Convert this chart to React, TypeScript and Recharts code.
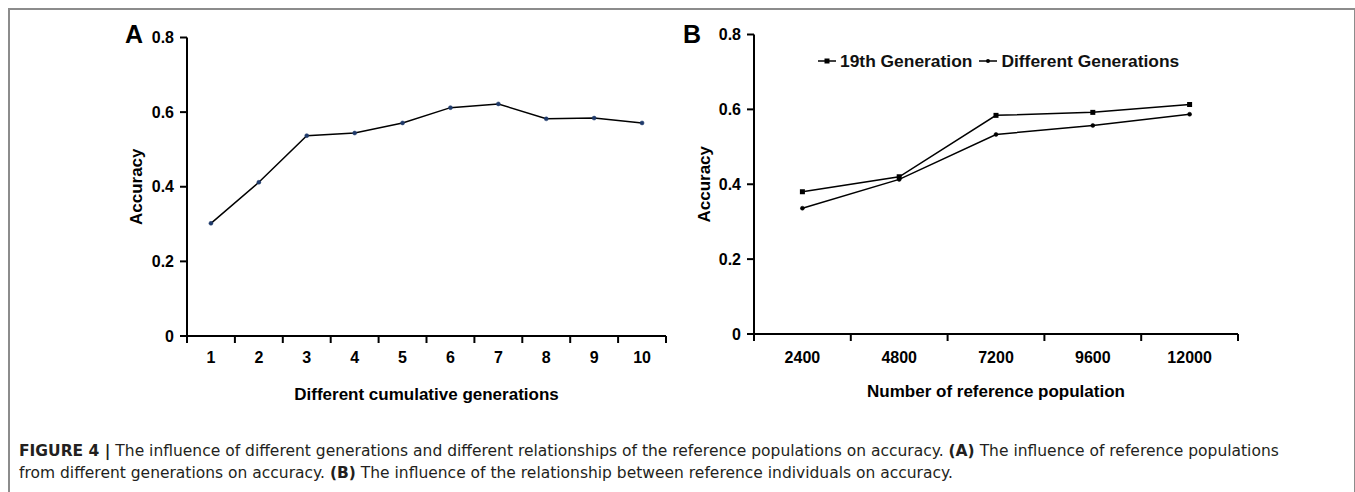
import { LineChart, Line, XAxis, YAxis } from "recharts";

// Panel A
const generations = [1, 2, 3, 4, 5, 6, 7, 8, 9, 10];
const accuracyA = [0.302, 0.412, 0.537, 0.544, 0.571, 0.612, 0.622, 0.582, 0.584, 0.571];
const genBounds = [0.5, 1.5, 2.5, 3.5, 4.5, 5.5, 6.5, 7.5, 8.5, 9.5, 10.5];

// Panel B
const populations = [2400, 4800, 7200, 9600, 12000];
const gen19 = [0.38, 0.42, 0.584, 0.592, 0.613];
const diffGen = [0.336, 0.413, 0.533, 0.557, 0.587];
const popBounds = [1200, 3600, 6000, 8400, 10800, 13200];

const yTicks = [0, 0.2, 0.4, 0.6, 0.8];

const FONT = '"Liberation Sans", Arial, sans-serif';

const dataA = generations.map((g, i) => ({ gen: g, acc: accuracyA[i] }));
const dataB = populations.map((p, i) => ({ pop: p, g19: gen19[i], diff: diffGen[i] }));

const tickStyle = { fill: "#000", fontSize: 16, fontWeight: 700, fontFamily: FONT };
const titleStyle = { fill: "#000", fontSize: 17, fontWeight: 700, fontFamily: FONT, textAnchor: "middle" as const };
const axisLine = { stroke: "#000", strokeWidth: 2 };

const SquareDot = (props: any) => {
  const { cx, cy } = props;
  if (cx == null || cy == null) return null;
  return <rect x={cx - 2.5} y={cy - 2.5} width={5} height={5} fill="#000" />;
};

const yFmt = (v: number) => (v === 0 ? "0" : v.toFixed(1));
const blank = () => "";

function LegendMarker({ square }: { square: boolean }) {
  return (
    <svg width={20} height={10} style={{ verticalAlign: "middle", marginRight: 3 }}>
      <line x1={1} y1={5} x2={19} y2={5} stroke="#000" strokeWidth={1.5} />
      {square ? <rect x={7.5} y={2.5} width={5} height={5} fill="#000" /> : <circle cx={10} cy={5} r={2} fill="#000" />}
    </svg>
  );
}

export default function App() {
  return (
    <div
      style={{
        position: "absolute",
        left: 0,
        top: 0,
        width: 1355,
        height: 492,
        overflow: "hidden",
        background: "#fff",
        fontFamily: FONT,
      }}
    >
      <div
        style={{
          position: "absolute",
          left: 8,
          top: 8,
          width: 1344,
          height: 520,
          border: "2px solid #8c8c8c",
        }}
      />

      {/* Panel A */}
      <div style={{ position: "absolute", left: 0, top: 0 }}>
        <LineChart width={700} height={420} data={dataA} margin={{ top: 37.5, right: 34, left: 100, bottom: 14 }}>
          <XAxis
            xAxisId="grid"
            type="number"
            dataKey="gen"
            domain={[0.5, 10.5]}
            ticks={genBounds}
            interval={0}
            tickFormatter={blank}
            height={1}
            tickSize={7}
            axisLine={axisLine}
            tickLine={axisLine}
          />
          <XAxis
            xAxisId="lab"
            type="number"
            dataKey="gen"
            domain={[0.5, 10.5]}
            ticks={generations}
            interval={0}
            height={69}
            tickSize={0}
            tickMargin={15}
            axisLine={false}
            tickLine={false}
            tick={tickStyle}
            label={{ value: "Different cumulative generations", position: "insideBottom", offset: 6, style: titleStyle }}
          />
          <YAxis
            domain={[0, 0.8]}
            ticks={yTicks}
            interval={0}
            width={87}
            tickSize={7}
            tickMargin={6}
            tickFormatter={yFmt}
            axisLine={axisLine}
            tickLine={axisLine}
            tick={tickStyle}
            label={{ value: "Accuracy", angle: -90, position: "insideLeft", offset: 36, style: titleStyle }}
          />
          <Line
            xAxisId="lab"
            dataKey="acc"
            type="linear"
            stroke="#000"
            strokeWidth={1.5}
            dot={{ r: 2, fill: "#1f3a6b", stroke: "#1f3a6b", strokeWidth: 0.5 }}
            isAnimationActive={false}
          />
        </LineChart>
      </div>
      <div style={{ position: "absolute", left: 125, top: 20, fontSize: 25, fontWeight: 700, color: "#000" }}>A</div>

      {/* Panel B */}
      <div style={{ position: "absolute", left: 560, top: 0 }}>
        <LineChart width={720} height={420} data={dataB} margin={{ top: 34.5, right: 42, left: 134, bottom: 16 }}>
          <XAxis
            xAxisId="grid"
            type="number"
            dataKey="pop"
            domain={[1200, 13200]}
            ticks={popBounds}
            interval={0}
            tickFormatter={blank}
            height={1}
            tickSize={7}
            axisLine={axisLine}
            tickLine={axisLine}
          />
          <XAxis
            xAxisId="lab"
            type="number"
            dataKey="pop"
            domain={[1200, 13200]}
            ticks={populations}
            interval={0}
            height={69}
            tickSize={0}
            tickMargin={17}
            axisLine={false}
            tickLine={false}
            tick={tickStyle}
            label={{ value: "Number of reference population", position: "insideBottom", offset: 7, style: titleStyle }}
          />
          <YAxis
            domain={[0, 0.8]}
            ticks={yTicks}
            interval={0}
            width={60}
            tickSize={7}
            tickMargin={6}
            tickFormatter={yFmt}
            axisLine={axisLine}
            tickLine={axisLine}
            tick={tickStyle}
            label={{ value: "Accuracy", angle: -90, position: "insideLeft", offset: 10, style: titleStyle }}
          />
          <Line
            xAxisId="lab"
            dataKey="g19"
            name="19th Generation"
            type="linear"
            stroke="#000"
            strokeWidth={1.5}
            dot={<SquareDot />}
            isAnimationActive={false}
          />
          <Line
            xAxisId="lab"
            dataKey="diff"
            name="Different Generations"
            type="linear"
            stroke="#000"
            strokeWidth={1.5}
            dot={{ r: 2, fill: "#000", stroke: "#000", strokeWidth: 0.5 }}
            isAnimationActive={false}
          />
        </LineChart>
      </div>
      <div style={{ position: "absolute", left: 683, top: 20, fontSize: 25, fontWeight: 700, color: "#000" }}>B</div>
      <div
        style={{
          position: "absolute",
          left: 817,
          top: 49,
          fontSize: 17.4,
          fontWeight: 700,
          color: "#111",
          whiteSpace: "nowrap",
          lineHeight: "22px",
        }}
      >
        <LegendMarker square />
        <span style={{ verticalAlign: "middle" }}>19th Generation</span>
        <span style={{ display: "inline-block", width: 6 }} />
        <LegendMarker square={false} />
        <span style={{ verticalAlign: "middle" }}>Different Generations</span>
      </div>

      {/* Caption */}
      <div
        style={{
          position: "absolute",
          left: 19,
          top: 440,
          width: 1320,
          fontFamily: '"DejaVu Sans", sans-serif',
          fontSize: 15.5,
          lineHeight: "22px",
          color: "#231f20",
          whiteSpace: "nowrap",
        }}
      >
        <b>FIGURE 4 |</b> The influence of different generations and different relationships of the reference populations on
        accuracy. <b>(A)</b> The influence of reference populations
        <br />
        from different generations on accuracy. <b>(B)</b> The influence of the relationship between reference individuals on
        accuracy.
      </div>
    </div>
  );
}
